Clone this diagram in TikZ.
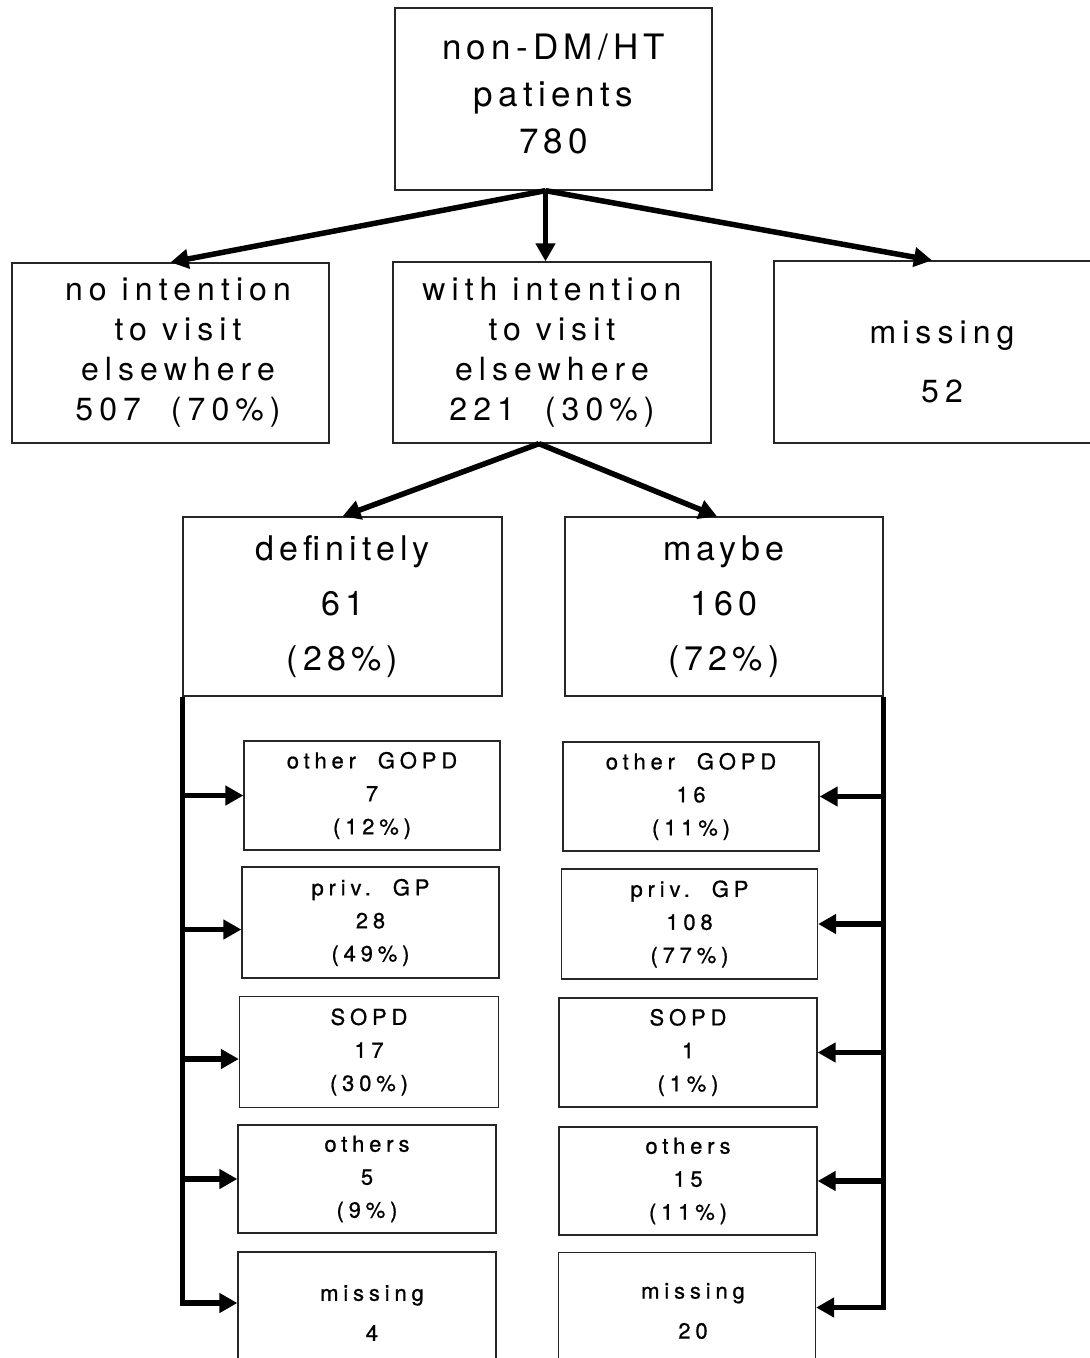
\documentclass[tikz,border=0pt]{standalone}
\usepackage{fontspec}
\setmainfont{TeX Gyre Heros}
\newfontfamily\lgfont[LetterSpace=15]{TeX Gyre Heros}
\newfontfamily\mdfont[LetterSpace=19]{TeX Gyre Heros}
\newfontfamily\smfont[LetterSpace=22,FakeBold=0.8]{TeX Gyre Heros}
\usetikzlibrary{arrows.meta}

\begin{document}
\begin{tikzpicture}[x=1pt,y=-1pt,
  box/.style={draw=black!85, line width=1.3pt, inner sep=0pt, align=center},
  sz/.style 2 args={minimum width=#1pt, minimum height=#2pt},
  txt/.style={inner sep=0pt, align=center},
  toptext/.style={font={\lgfont\fontsize{35}{47}\selectfont}},
  rowtext/.style={font={\mdfont\fontsize{32}{40}\selectfont}},
  misstext/.style={font={\mdfont\fontsize{32}{59}\selectfont}},
  subtext/.style={font={\lgfont\fontsize{34}{55}\selectfont}},
  smalltext/.style={font={\smfont\fontsize{22}{33}\selectfont}},
  smallmiss/.style={font={\smfont\fontsize{22}{40}\selectfont}},
  conn/.style={line width=5.5pt, line join=miter, -{Triangle[length=18pt,width=19pt]}},
]
\useasboundingbox[fill=white] (0,0) rectangle (1090,1358);

% first level
\node[box, sz={317}{182}] (top) at (553.5,99) {};
\node[txt, toptext] (topt) at (553.5,94) {non-DM/HT\\patients\\780};

% second level
\node[box, sz={317}{180}] (noint) at (170.5,353) {};
\node[txt, rowtext] (nointt) at (178,353)
  {no intention\\to visit\\elsewhere\\507~~(70\%)};
\node[box, sz={318}{181}, rowtext] (withint) at (552,352.5)
  {with intention\\to visit\\elsewhere\\221~~(30\%)};
\node[box, sz={336}{182}] (miss0) at (942,352) {};
\node[txt, misstext] (miss0t) at (942,362) {missing\\52};

% third level
\node[box, sz={319}{179}, subtext] (defin) at (342.5,606.5) {definitely\\61\\(28\%)};
\node[box, sz={318}{179}, subtext] (maybe) at (724,606.5) {maybe\\160\\(72\%)};

% destinations, definitely
\node[box, sz={256}{109}, smalltext] (og1) at (372,795.5) {other\ \ GOPD\\7\\(12\%)};
\node[box, sz={257}{111}, smalltext] (pg1) at (370.5,922.5) {priv.\ \ GP\\28\\(49\%)};
\node[box, sz={259}{111}, smalltext] (sop1) at (369,1052) {SOPD\\17\\(30\%)};
\node[box, sz={258}{108}, smalltext] (oth1) at (367,1179) {others\\5\\(9\%)};
\node[box, sz={258}{110}] (mis1) at (367,1307) {};
\node[txt, smallmiss] (mis1t) at (372,1313) {missing\\4};

% destinations, maybe
\node[box, sz={256}{109}, smalltext] (og2) at (691,796.5) {other\ \ GOPD\\16\\(11\%)};
\node[box, sz={256}{110}, smalltext] (pg2) at (689.5,924) {priv.\ \ GP\\108\\(77\%)};
\node[box, sz={258}{109}, smalltext] (sop2) at (688,1052.5) {SOPD\\1\\(1\%)};
\node[box, sz={258}{108}, smalltext] (oth2) at (688,1181) {others\\15\\(11\%)};
\node[box, sz={257}{110}] (mis2) at (687,1307.5) {};
\node[txt, smallmiss] (mis2t) at (693,1311) {missing\\20};

% splits from the top boxes
\coordinate (apex) at ([xshift=-8pt]top.south);
\draw[conn] (apex) -- (noint.north);
\draw[conn] (apex) -- (apex |- withint.north);
\draw[conn] (apex) -- ([xshift=-10pt]miss0.north);

\coordinate (apex2) at ([xshift=-13pt]withint.south);
\draw[conn] (apex2) -- (defin.north);
\draw[conn] (apex2) -- ([xshift=-7pt]maybe.north);

% left spine and branches
\draw[conn] (defin.south west) |- ([yshift=4pt]mis1.west);
\draw[conn] (defin.south west |- og1.west) -- (og1.west);
\draw[conn] (defin.south west |- pg1.west) ++(0,7) -- ([yshift=-7pt]pg1.west);
\draw[conn] (defin.south west |- sop1.west) ++(0,7) -- ([yshift=-7pt]sop1.west);
\draw[conn] (defin.south west |- oth1.west) -- (oth1.west);

% right spine and branches
\draw[conn] (maybe.south east) |- (mis2.east);
\draw[conn] (maybe.south east |- og2.east) -- (og2.east);
\draw[conn] (maybe.south east |- pg2.east) -- (pg2.east);
\draw[conn] (maybe.south east |- sop2.east) -- (sop2.east);
\draw[conn] (maybe.south east |- oth2.east) -- (oth2.east);
\end{tikzpicture}
\end{document}
